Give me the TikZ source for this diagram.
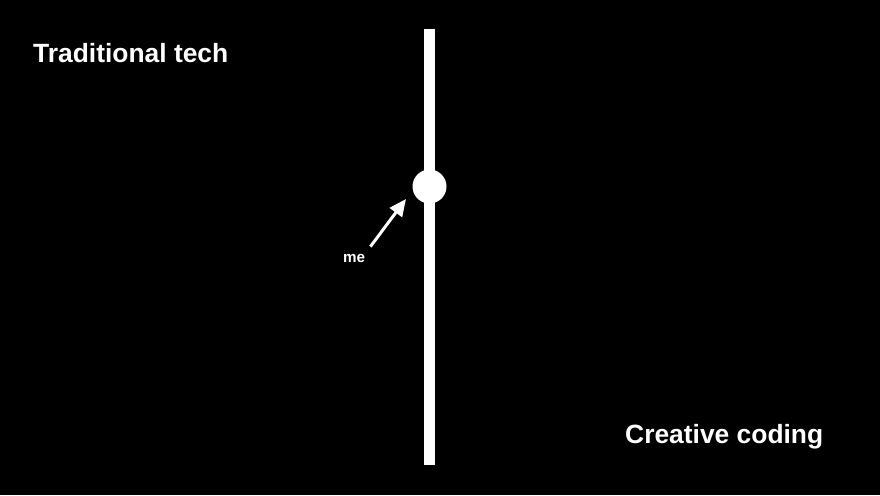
\documentclass[tikz,border=0pt]{standalone}
\usepackage{fontspec}
\setmainfont{Liberation Sans}
\usepackage{tikz}
\usetikzlibrary{arrows.meta}

\tikzset{
  label/.style={text=white, font=\bfseries\fontsize{26.4}{30}\selectfont, inner sep=0pt, anchor=base west},
  small/.style={text=white, font=\bfseries\fontsize{15.2}{18}\selectfont, inner sep=0pt, anchor=base west},
  arr/.style={white, line width=3pt, -{Triangle[length=17pt, width=15pt]}}
}

\begin{document}
\begin{tikzpicture}[x=1pt, y=-1pt]
\fill[black] (0,0) rectangle (880,495);
\useasboundingbox (0,0) rectangle (880,495);
% the axis
\fill[white] (424,29.5) rectangle (435,465);
\node[circle, fill=white, minimum size=34pt, inner sep=0pt] (dot) at (429.5,186.5) {};
% labels
\node[label] (trad) at (33,63) {Traditional tech};
\node[label] (creative) at (625,443) {Creative coding};
\node[small] (me) at (343,262) {me};
\coordinate (tip) at (406,199);
\draw[arr] ([xshift=5pt, yshift=7pt]me.north east) -- (tip);
\end{tikzpicture}
\end{document}
